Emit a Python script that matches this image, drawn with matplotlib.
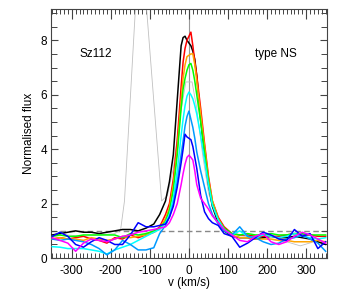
import numpy as np
import matplotlib
matplotlib.use("Agg")
import matplotlib.pyplot as plt
from matplotlib.ticker import MultipleLocator

plt.rcParams['font.family'] = ['Liberation Sans', 'DejaVu Sans']

# velocity grid (km/s) shared by the coloured spectra
v = [-350, -330, -310, -290, -270, -250, -230, -210, -190, -170, -150, -130, -110,
     -90, -75, -60, -50, -40, -30, -20, -15, -10, -5, 0, 5, 10, 15, 20, 30, 40, 50, 60, 75, 90,
     110, 130, 150, 170, 190, 210, 230, 250, 270, 290, 310, 330, 350]

f_black = [0.85, 0.9, 0.95, 1.0, 0.95, 0.95, 0.9, 0.95, 1.0, 1.05, 1.05, 1.0, 1.1,
           1.25, 1.6, 2.1, 2.8, 3.8, 5.8, 7.8, 8.1, 8.15, 8.0, 7.9, 7.8, 7.6, 7.3, 6.7, 5.1, 3.8, 2.7, 1.9, 1.3, 1.0,
           0.8, 0.75, 0.75, 0.7, 0.75, 0.8, 0.75, 0.75, 0.8, 0.75, 0.7, 0.6, 0.5]
f_red = [0.7, 0.75, 0.7, 0.75, 0.8, 0.7, 0.65, 0.55, 0.75, 0.7, 0.85, 0.75, 0.85,
         0.95, 1.15, 1.6, 2.0, 2.9, 4.3, 6.3, 7.2, 7.7, 8.0, 8.15, 8.3, 7.8, 7.2, 6.7, 5.5, 4.2, 3.0, 2.1, 1.5, 1.15,
         0.9, 0.85, 0.85, 0.8, 0.8, 0.8, 0.8, 0.85, 0.9, 0.85, 0.85, 0.8, 0.8]
f_orange = [0.7, 0.75, 0.7, 0.7, 0.65, 0.75, 0.7, 0.65, 0.7, 0.8, 0.75, 0.8, 0.85,
            0.95, 1.1, 1.45, 1.85, 2.7, 4.0, 5.8, 6.6, 7.1, 7.4, 7.45, 7.5, 7.5, 7.1, 6.5, 5.3, 4.1, 2.9, 2.1, 1.45, 1.1,
            0.85, 0.75, 0.75, 0.7, 0.7, 0.7, 0.65, 0.65, 0.6, 0.6, 0.6, 0.65, 0.6]
f_green = [0.8, 0.85, 0.8, 0.8, 0.85, 0.85, 0.85, 0.85, 0.85, 0.75, 0.9, 0.85, 0.9,
           1.0, 1.1, 1.35, 1.75, 2.5, 3.8, 5.5, 6.2, 6.6, 6.9, 7.1, 7.15, 6.9, 6.5, 6.0, 5.0, 3.9, 2.8, 2.0, 1.4, 1.1,
           0.9, 0.85, 0.9, 0.85, 0.85, 0.9, 0.85, 0.85, 0.9, 0.9, 0.85, 0.85, 0.85]
f_cyan = [0.42, 0.4, 0.35, 0.35, 0.35, 0.3, 0.25, 0.15, 0.3, 0.4, 0.5, 0.65, 0.8,
          0.95, 1.05, 1.3, 1.6, 2.2, 3.2, 4.5, 5.1, 5.6, 5.95, 6.1, 6.0, 5.85, 5.6, 5.3, 4.5, 3.6, 2.7, 1.95, 1.4, 1.05,
          0.85, 1.0, 0.8, 0.75, 0.85, 0.8, 0.75, 0.8, 0.9, 0.8, 0.75, 0.7, 0.75]
f_ltblue = [0.7, 0.65, 0.7, 0.65, 0.6, 0.5, 0.35, 0.12, 0.3, 0.65, 0.5, 0.3, 0.3,
            0.38, 0.9, 1.2, 1.5, 2.0, 2.8, 3.8, 4.3, 4.85, 5.2, 5.4, 5.1, 4.8, 4.4, 3.9, 3.2, 2.6, 2.0, 1.6, 1.25, 1.0,
            0.85, 1.15, 0.8, 0.75, 0.6, 0.5, 0.55, 0.7, 0.75, 0.85, 0.7, 0.55, 0.25]
f_blue = [0.8, 0.95, 0.8, 0.5, 0.4, 0.6, 0.75, 0.65, 0.5, 0.5, 0.85, 1.3, 1.15,
          1.15, 1.2, 1.25, 1.5, 1.9, 2.6, 3.5, 4.0, 4.55, 4.45, 4.4, 4.35, 4.1, 3.7, 3.3, 2.3, 1.7, 1.45, 1.3, 1.2, 0.9,
          0.8, 0.4, 0.55, 0.75, 0.95, 0.85, 0.7, 0.65, 1.05, 0.8, 0.9, 0.35, 0.6]
f_magenta = [0.75, 0.65, 0.55, 0.25, 0.55, 0.7, 0.65, 0.6, 0.7, 0.8, 0.85, 0.95, 1.0,
             1.05, 1.1, 1.15, 1.3, 1.6, 2.0, 2.7, 3.1, 3.45, 3.7, 3.78, 3.7, 3.6, 3.2, 2.7, 2.2, 2.0, 1.8, 1.55, 1.3, 1.05,
             0.85, 0.65, 0.6, 0.8, 0.9, 0.6, 0.5, 0.6, 0.8, 0.95, 0.85, 0.7, 0.55]

# thin grey comparison spectrum has its own sampling
v_gray = [-350, -310, -270, -230, -190, -175, -165, -125, -70, -55, -40, -25, -8, 8, 20, 35, 50, 70,
          100, 150, 200, 250, 285, 320, 350]
f_gray = [0.8, 0.85, 0.8, 0.85, 0.9, 1.03, 2.1, 12.2, 2.1, 2.3, 3.3, 5.0, 6.47, 6.47, 5.5, 3.8, 2.4, 1.4,
          0.9, 0.8, 0.7, 0.6, 0.45, 0.6, 0.55]

spectra = [(f_black, 'black'), (f_red, '#ff0000'), (f_orange, '#ffa500'), (f_green, '#00ff00'),
           (f_cyan, '#00ffff'), (f_ltblue, '#0099ff'), (f_blue, '#0000ff'), (f_magenta, '#ff00ff')]

fig = plt.figure(figsize=(3.38, 2.9), dpi=100)
ax = fig.add_axes([0.151, 0.110, 0.816, 0.859])

ax.axvline(0, color='#999999', lw=0.8, zorder=1)
ax.axhline(1, color='#888888', lw=1.0, ls=(0, (4, 2.5)), zorder=1)
ax.plot(v_gray, f_gray, color='#c0c0c0', lw=0.6, zorder=2)
for f, c in spectra:
    ax.plot(v, f, color=c, lw=1.1, zorder=3)

ax.set_xlim(-353, 353)
ax.set_ylim(0, 9.15)
ax.xaxis.set_major_locator(MultipleLocator(100))
ax.xaxis.set_minor_locator(MultipleLocator(10))
ax.yaxis.set_major_locator(MultipleLocator(2))
ax.yaxis.set_minor_locator(MultipleLocator(0.5))
ax.tick_params(axis='both', which='both', direction='in', top=True, right=True,
               colors='#444444', labelcolor='black', labelsize=8.5)
ax.tick_params(axis='x', which='major', length=7, width=0.8, pad=5)
ax.tick_params(axis='x', which='minor', length=3.5, width=0.7)
ax.tick_params(axis='y', which='major', length=5, width=0.8, pad=3)
ax.tick_params(axis='y', which='minor', length=4, width=0.7)
for s in ax.spines.values():
    s.set_color('#444444')
    s.set_linewidth(0.8)

ax.set_xticks([-300, -200, -100, 0, 100, 200, 300])
ax.set_xticklabels(['-300', '-200', '-100', '0', '100', '200', '300'])
ax.set_xlabel('v (km/s)', fontsize=8.5, labelpad=0)
ax.set_ylabel('Normalised flux', fontsize=8.5, labelpad=4)

ax.text(-238, 7.5, 'Sz112', fontsize=8.5, ha='center', va='center')
ax.text(222, 7.5, 'type NS', fontsize=8.5, ha='center', va='center')

fig.savefig('out.png', dpi=100)
